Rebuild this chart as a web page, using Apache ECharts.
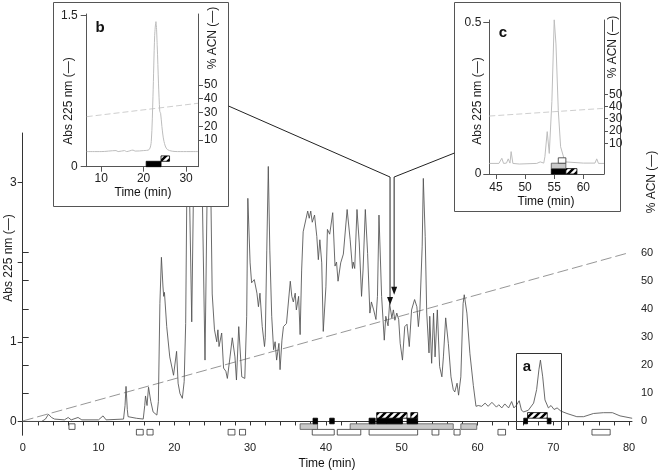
<!DOCTYPE html>
<html><head><meta charset="utf-8">
<script src="https://cdn.jsdelivr.net/npm/echarts@6/dist/echarts.min.js"></script>
<style>html,body{margin:0;padding:0;background:#fff}#c{width:661px;height:475px}</style>
</head><body><div id="c"></div>
<script>
// ---- main chromatogram (Time min, Abs 225 nm) ----
const mainTime = [0,2.5,3.0,3.4,3.8,4.2,5.5,6.0,6.4,7.3,7.8,10.0,10.6,11.0,13.3,13.5,13.63,13.8,13.9,15.0,15.9,16.1,16.2,16.4,16.6,16.9,17.2,17.7,17.9,18.1,18.3,18.5,18.6,18.7,19.0,19.4,19.9,20.1,20.3,20.5,20.75,21.06,21.3,21.5,21.7,22.0,22.3,22.6,23.6,24.05,24.4,24.8,25.0,25.3,25.6,25.75,25.9,26.25,26.5,26.8,27.0,27.35,27.65,28.0,28.2,28.5,28.9,29.3,29.55,29.7,30.0,30.2,30.55,30.9,31.1,31.3,31.6,31.9,32.0,32.2,32.4,32.6,32.85,33.1,33.3,33.5,33.8,33.95,34.2,34.4,34.8,35.3,35.5,35.7,35.95,36.1,36.4,36.6,36.8,37.0,37.2,37.6,37.8,38.0,38.2,38.5,38.8,39.0,39.2,39.45,39.65,40.0,40.2,40.5,40.9,41.2,41.4,41.6,41.95,42.3,42.8,43.2,43.5,43.6,43.8,44.1,44.4,44.7,44.9,45.2,45.5,45.8,46.0,46.3,46.6,46.8,47.0,47.35,47.7,47.9,48.2,48.4,48.7,48.9,49.1,49.35,49.6,49.8,50.1,50.4,50.7,51.0,51.3,51.7,52.0,52.2,52.4,52.7,52.85,53.1,53.3,53.6,53.7,53.95,54.2,54.4,54.7,55.0,55.3,55.5,55.8,56.15,56.5,56.8,57.0,57.3,57.5,57.8,58.1,58.25,58.6,59.0,59.45,59.8,60.1,60.55,61.0,61.4,61.9,62.5,62.8,63.2,63.6,64.1,64.5,64.8,65.1,65.5,65.8,66.1,66.7,67.4,67.8,68.1,68.3,68.6,68.9,69.35,69.7,70.1,70.5,71.0,71.8,73.1,74.0,75.3,76.6,77.8,78.8,80.4];
const mainAbs  = [0,0,0.03,0.09,0.05,0.03,0.02,0.05,0.02,0.05,0.02,0.02,0.07,0.02,0.03,0.2,0.44,0.15,0.06,0.04,0.03,0.2,0.32,0.2,0.43,0.25,0.12,0.08,0.25,1.48,2.06,1.7,1.57,1.62,1.19,0.81,0.58,0.6,0.88,0.48,0.35,0.29,0.5,1.23,3.4,2.9,1.25,3.4,3.4,0.77,3.4,3.0,1.6,1.15,1.0,1.15,0.94,1.11,0.67,0.63,0.54,0.81,1.05,0.81,0.52,1.19,0.56,0.54,1.32,2.80,1.99,1.74,1.78,1.61,1.44,1.61,1.19,0.94,1.05,2.15,3.2,2.15,1.32,0.9,1.0,0.77,0.98,0.65,1.02,1.19,1.23,1.76,1.57,1.5,1.61,1.40,1.57,1.09,1.9,2.38,2.4,2.64,2.55,2.64,2.5,2.59,2.32,2.03,2.28,1.99,1.13,1.69,2.41,2.35,2.62,1.95,2.0,1.76,1.99,2.1,2.66,2.28,1.92,2.0,1.92,2.66,2.24,1.57,1.9,2.66,2.11,1.36,1.5,1.4,1.28,1.57,2.59,1.57,1.02,1.32,1.2,1.48,1.3,1.4,1.27,1.36,1.28,0.98,0.77,1.19,1.22,0.94,1.4,1.53,1.44,1.19,1.4,2.2,3.05,2.32,1.36,0.86,1.32,0.73,1.36,0.81,1.4,0.69,0.56,0.81,1.3,0.98,0.56,0.4,0.37,0.48,0.33,0.56,1.48,1.59,1.36,0.85,0.45,0.19,0.2,0.19,0.23,0.19,0.24,0.18,0.21,0.17,0.22,0.17,0.25,0.17,0.2,0.26,0.14,0.12,0.14,0.23,0.40,0.65,0.77,0.56,0.27,0.17,0.2,0.15,0.17,0.13,0.1,0.06,0.06,0.1,0.11,0.11,0.07,0.04];
const acnTime = [0, 80];
const acnPct  = [0, 60];
// fraction markers: [start, end, row]
const mainWhite = [[15.0,15.9,0],[16.4,17.2,0],[27.1,28.0,0],[28.6,29.4,0],[38.2,41.1,0],[41.5,44.6,0],[45.7,52.1,0],[54.0,54.9,0],[56.9,57.7,0],[62.7,63.7,0],[75.1,77.5,0],[6.1,6.9,1]];
const mainGray  = [[36.6,38.9,1],[43.2,56.8,1],[57.8,59.9,1]];
const mainBlack = [[38.3,38.9,2],[40.5,41.1,2],[45.7,46.5,2],[46.7,50.1,2],[50.7,52.1,2],[66.1,66.6,2],[69.2,69.7,2]];
const mainHatch = [[46.7,50.7,3],[51.2,52.1,3],[66.6,69.2,3]];
const xTicks = [0,10,20,30,40,50,60,70,80];
const absTicks = [0,1,2,3];
const absLabels = [0,1,3];
const acnTicks = [0,10,20,30,40,50,60];
// ---- inset b ----
const bTime = [6.6,10,13.5,14,15.5,16,17.5,18,20,21.3,21.8,22.2,22.6,22.9,23.2,23.5,23.8,24.0,24.3,24.8,25.6,28,32.8];
const bAbs  = [0.15,0.15,0.16,0.15,0.16,0.15,0.165,0.155,0.16,0.17,0.25,0.7,1.3,1.44,1.2,0.83,0.55,0.53,0.4,0.25,0.17,0.15,0.15];
const bAcnTime = [6.6, 32.8];
const bAcnPct  = [26.9, 36.6];
const bBlack = [[20.6,24.1,0]];
const bHatch = [[24.1,26.1,1]];
const bXTicks = [10,20,30];
const bAbsTicks = [0,1.5];
const bAcnTicks = [10,20,30,40,50];
// ---- inset c ----
const cTime = [43.85,45.5,46.0,46.3,46.8,47.1,47.4,47.6,47.9,49,52,52.6,53.2,53.4,53.8,54.15,54.6,55.0,55.3,55.7,56.1,56.85,60,62.0,62.3,62.6,63.55];
const cAbs  = [0.035,0.035,0.052,0.035,0.036,0.05,0.036,0.074,0.035,0.033,0.035,0.04,0.036,0.057,0.14,0.068,0.24,0.51,0.43,0.21,0.09,0.04,0.036,0.036,0.05,0.035,0.035];
const cAcnTime = [43.85, 63.55];
const cAcnPct  = [32.2, 38.5];
const cBlack = [[54.5,57.0,0]];
const cHatch = [[57.0,58.9,0]];
const cGray  = [[54.5,57.0,1]];
const cWhite = [[55.7,57.0,2]];
const cXTicks = [45,50,55,60];
const cAbsTicks = [0,0.5];
const cAcnTicks = [10,20,30,40,50];
// arrow targets (time, abs)
const arrowTargets = [[48.46,1.46],[49.0,1.59]];

const zip = (a,b) => a.map((v,i)=>[v,b[i]]);
const pc = document.createElement('canvas'); pc.width = 7; pc.height = 7;
(function(){const g=pc.getContext('2d'); g.fillStyle='#fff'; g.fillRect(0,0,7,7); g.strokeStyle='#000'; g.lineWidth=2.4; g.beginPath();
 g.moveTo(-1,8); g.lineTo(8,-1); g.moveTo(-4.5,4.5); g.lineTo(4.5,-4.5); g.moveTo(2.5,11.5); g.lineTo(11.5,2.5); g.stroke();})();
const kinds = [
  {fill:'#fff', stroke:'#333'},
  {fill:'#c9c9c9', stroke:'#555'},
  {fill:'#000', stroke:'#000'},
  {fill:{image:pc, repeat:'repeat'}, stroke:'#000'}
];
function fracData(groups){ const out=[]; groups.forEach(([arr,k])=>arr.forEach(r=>out.push([r[0],r[1],r[2],k]))); return out; }
function fracSeries(data, xi, yi, yMin, h, z){
  return {type:'custom', xAxisIndex:xi, yAxisIndex:yi, z:z, silent:true, clip:false, data:data, encode:{x:[0,1]},
    renderItem:function(params, api){
      const s=api.value(0), e=api.value(1), row=api.value(2), k=api.value(3);
      const p0=api.coord([s,yMin]), p1=api.coord([e,yMin]);
      const top=p0[1]-(row+1)*h;
      return {type:'rect', shape:{x:p0[0], y:top, width:p1[0]-p0[0], height:h}, style:{fill:kinds[k].fill, stroke:kinds[k].stroke, lineWidth:0.8}};
    }};
}
const FONT = 'Liberation Sans, Arial, sans-serif';
const lab = (extra) => Object.assign({color:'#222', fontFamily:FONT, fontSize:11}, extra||{});

const chart = echarts.init(document.getElementById('c'));
const mainYMin = -0.17;
const option = {
  animation:false,
  grid:[
    {left:22.7, right:29, top:133, bottom:40},
    {left:22.7, right:29, top:219, bottom:40},
    {left:86.7, right:463, top:14, bottom:308.3},
    {left:489.3, right:57, top:20, bottom:301}
  ],
  xAxis:[
    {gridIndex:0, type:'value', min:0, max:80.38, axisLine:{lineStyle:{color:'#333', width:1}},
     axisTick:{length:4, lineStyle:{color:'#333'}, customValues:[0,2,4,6,8,10,12,14,16,18,20,22,24,26,28,30,32,34,36,38,40,42,44,46,48,50,52,54,56,58,60,62,64,66,68,70,72,74,76,78,80]},
     axisLabel:lab({margin:7, customValues:xTicks}), splitLine:{show:false}},
    {gridIndex:1, type:'value', min:0, max:80.38, show:false},
    {gridIndex:2, type:'value', min:6.6, max:32.8, z:20, axisLine:{lineStyle:{color:'#555'}},
     axisTick:{length:5, lineStyle:{color:'#555'}, customValues:bXTicks}, axisLabel:lab({fontSize:12, margin:6, customValues:bXTicks}), splitLine:{show:false}},
    {gridIndex:3, type:'value', min:43.85, max:63.55, z:20, axisLine:{lineStyle:{color:'#555'}},
     axisTick:{length:5, lineStyle:{color:'#555'}, customValues:cXTicks}, axisLabel:lab({fontSize:12, margin:8, customValues:cXTicks}), splitLine:{show:false}}
  ],
  yAxis:[
    {gridIndex:0, type:'value', min:mainYMin, max:3.62, axisLine:{show:true, lineStyle:{color:'#333'}},
     axisTick:{show:true, length:5, lineStyle:{color:'#333'}, customValues:absTicks}, axisLabel:lab({fontSize:12, margin:6, customValues:absLabels}), splitLine:{show:false}},
    {gridIndex:1, type:'value', position:'right', min:-5, max:72, axisLine:{show:true, lineStyle:{color:'#333'}},
     axisTick:{show:true, length:6, lineStyle:{color:'#333'}, customValues:acnTicks}, axisLabel:lab({margin:9, customValues:acnTicks}), splitLine:{show:false}},
    {gridIndex:2, type:'value', min:0, max:1.516, z:20, axisLine:{show:true, lineStyle:{color:'#555'}},
     axisTick:{show:true, length:6, lineStyle:{color:'#555'}, customValues:bAbsTicks}, axisLabel:lab({fontSize:12, margin:9, customValues:bAbsTicks}), splitLine:{show:false}},
    {gridIndex:2, type:'value', position:'right', min:-9.35, max:101.3, z:20, axisLine:{show:true, lineStyle:{color:'#555'}},
     axisTick:{show:true, length:5, lineStyle:{color:'#555'}, customValues:bAcnTicks}, axisLabel:lab({fontSize:12, margin:6, customValues:bAcnTicks}), splitLine:{show:false}},
    {gridIndex:3, type:'value', min:0, max:0.509, z:20, axisLine:{show:true, lineStyle:{color:'#555'}},
     axisTick:{show:true, length:6, lineStyle:{color:'#555'}, customValues:cAbsTicks}, axisLabel:lab({fontSize:12, margin:8, customValues:cAbsTicks}), splitLine:{show:false}},
    {gridIndex:3, type:'value', position:'right', min:-15.1, max:110.6, z:20, axisLine:{show:true, lineStyle:{color:'#555'}},
     axisTick:{show:true, length:4, lineStyle:{color:'#555'}, customValues:cAcnTicks}, axisLabel:lab({fontSize:12, margin:5, customValues:cAcnTicks}), splitLine:{show:false}}
  ],
  series:[
    {type:'line', xAxisIndex:1, yAxisIndex:1, data:zip(acnTime,acnPct), symbol:'none', silent:true, z:1, lineStyle:{color:'#8a8a8a', width:0.9, type:[11,4]}},
    {type:'line', xAxisIndex:0, yAxisIndex:0, data:zip(mainTime,mainAbs), symbol:'none', silent:true, z:2, clip:true, lineStyle:{color:'#505050', width:0.85}},
    fracSeries(fracData([[mainWhite,0],[mainGray,1],[mainBlack,2],[mainHatch,3]]), 0, 0, mainYMin, 5.6, 3),
    {type:'line', xAxisIndex:2, yAxisIndex:3, data:zip(bAcnTime,bAcnPct), symbol:'none', silent:true, z:20, lineStyle:{color:'#c8c8c8', width:0.9, type:[6,3]}},
    {type:'line', xAxisIndex:2, yAxisIndex:2, data:zip(bTime,bAbs), symbol:'none', silent:true, z:21, smooth:0.3, lineStyle:{color:'#bdbdbd', width:1}},
    fracSeries(fracData([[bBlack,2],[bHatch,3]]), 2, 2, 0, 5.4, 22),
    {type:'line', xAxisIndex:3, yAxisIndex:5, data:zip(cAcnTime,cAcnPct), symbol:'none', silent:true, z:20, lineStyle:{color:'#c8c8c8', width:0.9, type:[6,3]}},
    {type:'line', xAxisIndex:3, yAxisIndex:4, data:zip(cTime,cAbs), symbol:'none', silent:true, z:21, lineStyle:{color:'#bdbdbd', width:1}},
    fracSeries(fracData([[cBlack,2],[cHatch,3],[cGray,1],[cWhite,0]]), 3, 4, 0, 5.4, 22)
  ]
};
chart.setOption(option);

const t1 = chart.convertToPixel({xAxisIndex:0, yAxisIndex:0}, arrowTargets[0]);
const t2 = chart.convertToPixel({xAxisIndex:0, yAxisIndex:0}, arrowTargets[1]);
const vtext = (txt, x, y, size) => ({type:'text', x:x, y:y, rotation:Math.PI/2, z:30,
  style:{text:txt, font:size+'px '+FONT, fill:'#222', textAlign:'center', textVerticalAlign:'middle', align:'center', verticalAlign:'middle'}});
const htext = (txt, x, y, size, bold) => ({type:'text', x:x, y:y, z:30,
  style:{text:txt, font:(bold?'bold ':'')+size+'px '+FONT, fill:'#111', textAlign:'center', textVerticalAlign:'middle', align:'center', verticalAlign:'middle'}});
const arrowHead = (p) => ({type:'polygon', z:16, shape:{points:[[p[0],p[1]],[p[0]-3,p[1]-8],[p[0]+3,p[1]-8]]}, style:{fill:'#111'}});
chart.setOption({graphic:[
  {type:'rect', z:10, shape:{x:53.5, y:2.5, width:175, height:204}, style:{fill:'#fff', stroke:'#555', lineWidth:1}},
  {type:'rect', z:10, shape:{x:454.5, y:2.5, width:166, height:209}, style:{fill:'#fff', stroke:'#555', lineWidth:1}},
  {type:'rect', z:10, shape:{x:516.5, y:353.5, width:45, height:76}, style:{fill:null, stroke:'#333', lineWidth:1}},
  {type:'polyline', z:15, shape:{points:[[228.5,106],[t1[0],177],[t1[0],t1[1]-6]]}, style:{stroke:'#222', lineWidth:1, fill:null}},
  {type:'polyline', z:15, shape:{points:[[454.5,153],[t2[0],177],[t2[0],t2[1]-6]]}, style:{stroke:'#222', lineWidth:1, fill:null}},
  arrowHead(t1), arrowHead(t2),
  vtext('Abs 225 nm (\u2014)', 9, 258, 12),
  vtext('% ACN (\u2014)', 652, 182, 12),
  htext('Time (min)', 327, 464, 12),
  vtext('Abs 225 nm (\u2014)', 69, 101, 12),
  vtext('% ACN (\u2014)', 213, 38, 12),
  htext('Time (min)', 143, 193, 12),
  vtext('Abs 225 nm (\u2014)', 478, 101, 12),
  vtext('% ACN (\u2014)', 613, 47, 12),
  htext('Time (min)', 546, 202, 12),
  htext('b', 100, 28, 15, true),
  htext('c', 503, 33, 15, true),
  htext('a', 527, 367, 15, true)
]});
</script></body></html>
